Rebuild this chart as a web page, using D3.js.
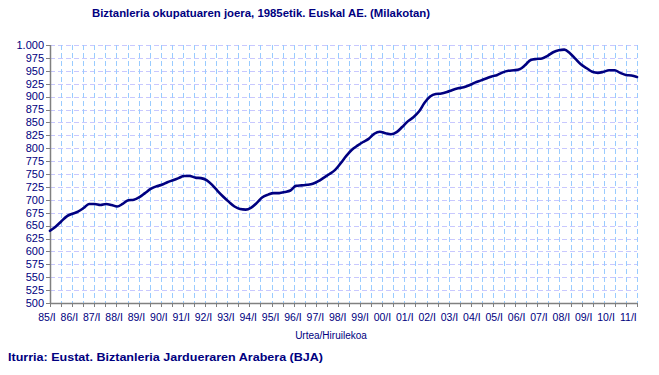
<!DOCTYPE html>
<html><head><meta charset="utf-8">
<script src="https://cdn.jsdelivr.net/npm/d3@7"></script>
<style>
body{margin:0;background:#fff;}
svg{display:block;font-family:"Liberation Sans",Arial,sans-serif;}
</style></head>
<body>
<svg id="chart" width="659" height="375"></svg>
<script>
// Quarterly employed population (thousands), 1985 Q1 .. 2011 Q2
const startYear = 1985;
const values = [
640,648,658,668,673,677,684,692,692,690,692,690,687,692,699,700,
705,713,721,726,729,734,738,742,746,746,743,742,738,729,717,706,
696,687,682,681,685,694,705,710,713,713,715,718,727,728,729,731,
736,743,750,758,771,785,797,805,812,818,828,832,829,827,831,841,
852,860,871,888,900,905,906,909,913,916,918,922,927,931,935,939,
942,947,950,951,953,961,971,973,974,979,986,990,991,984,973,962,
955,948,946,948,951,951,946,942,941,938
];
const yTicks = [500,525,550,575,600,625,650,675,700,725,750,775,800,825,850,875,900,925,950,975,1000];
const yearLabels = ["85/I","86/I","87/I","88/I","89/I","90/I","91/I","92/I","93/I","94/I","95/I","96/I","97/I","98/I","99/I","00/I","01/I","02/I","03/I","04/I","05/I","06/I","07/I","08/I","09/I","10/I","11/I"];
const title = "Biztanleria okupatuaren joera, 1985etik. Euskal AE. (Milakotan)";
const xTitle = "Urtea/Hiruilekoa";
const source = "Iturria: Eustat. Biztanleria Jardueraren Arabera (BJA)";
const gridDivisions = 53;

const L = 50, R = 637, T = 45, B = 303;
const navy = "#000080";
const svg = d3.select("#chart");

const x = d3.scaleLinear().domain([0, values.length - 1]).range([L, R]);
const xg = d3.scaleLinear().domain([0, gridDivisions]).range([L, R]);
const y = d3.scaleLinear().domain([500, 1000]).range([B, T]);

// horizontal grid
svg.append("g").selectAll("line").data(yTicks.filter(d => d > 500)).join("line")
  .attr("x1", L).attr("x2", R)
  .attr("y1", d => Math.round(y(d)) + 0.5).attr("y2", d => Math.round(y(d)) + 0.5)
  .attr("stroke", "#c8c8ff").attr("stroke-dasharray", "5,3");

// vertical grid
svg.append("g").selectAll("line").data(d3.range(1, gridDivisions + 1)).join("line")
  .attr("x1", d => Math.round(xg(d)) + 0.5).attr("x2", d => Math.round(xg(d)) + 0.5)
  .attr("y1", T).attr("y2", B)
  .attr("stroke", "#99ccff").attr("stroke-dasharray", "5,3");

// axes
const axisCol = "#808080";
svg.append("line").attr("x1", L + 0.5).attr("x2", L + 0.5).attr("y1", T).attr("y2", B + 0.5)
  .attr("stroke", axisCol).attr("stroke-width", 1.5);
svg.append("line").attr("x1", L).attr("x2", R + 0.5).attr("y1", B + 0.5).attr("y2", B + 0.5)
  .attr("stroke", axisCol).attr("stroke-width", 1.5);

// y ticks & labels
const yg = svg.append("g");
yg.selectAll("line").data(yTicks).join("line")
  .attr("x1", L - 4).attr("x2", L)
  .attr("y1", d => Math.round(y(d)) + 0.5).attr("y2", d => Math.round(y(d)) + 0.5)
  .attr("stroke", axisCol);
yg.selectAll("text").data(yTicks).join("text")
  .attr("x", 44).attr("y", d => y(d)).attr("dy", "0.35em")
  .attr("text-anchor", "end").attr("fill", navy).attr("font-size", "11px")
  .text(d => d3.format(",")(d).replace(",", "."));

// x ticks
svg.append("g").selectAll("line").data(d3.range(0, gridDivisions + 1)).join("line")
  .attr("x1", d => Math.round(xg(d)) + 0.5).attr("x2", d => Math.round(xg(d)) + 0.5)
  .attr("y1", B).attr("y2", B + 4)
  .attr("stroke", axisCol);

// x labels
svg.append("g").selectAll("text").data(yearLabels).join("text")
  .attr("x", (d, i) => x(i * 4) - 3).attr("y", 321)
  .attr("text-anchor", "middle").attr("fill", navy).attr("font-size", "10.5px")
  .text(d => d);

// line
const line = d3.line().x((d, i) => x(i)).y(d => y(d)).curve(d3.curveMonotoneX);
svg.append("path").datum(values).attr("d", line)
  .attr("fill", "none").attr("stroke", navy).attr("stroke-width", 2.6)
  .attr("stroke-linejoin", "round").attr("stroke-linecap", "round");

// titles
svg.append("text").attr("x", 261).attr("y", 17).attr("text-anchor", "middle")
  .attr("fill", navy).attr("font-weight", "bold").attr("font-size", "11.5px")
  .attr("textLength", 338).attr("lengthAdjust", "spacingAndGlyphs").text(title);
svg.append("text").attr("x", 331).attr("y", 339).attr("text-anchor", "middle")
  .attr("fill", navy).attr("font-size", "10px").text(xTitle);
svg.append("text").attr("x", 8).attr("y", 361)
  .attr("fill", navy).attr("font-weight", "bold").attr("font-size", "11.5px")
  .attr("textLength", 315).attr("lengthAdjust", "spacingAndGlyphs").text(source);
</script>
</body></html>
